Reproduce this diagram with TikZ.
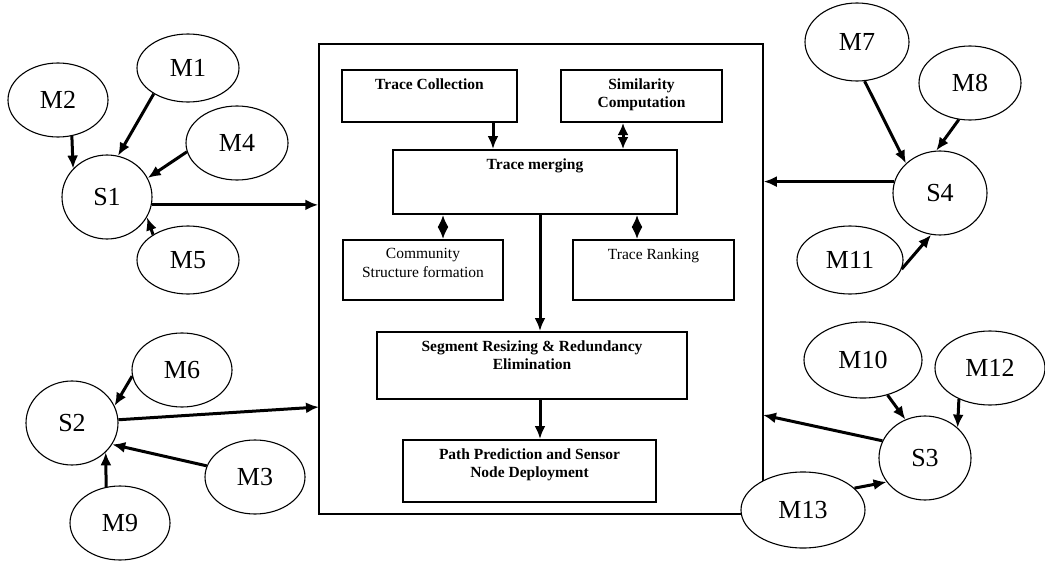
\documentclass[tikz,border=0pt]{standalone}
\usepackage{fontspec}
\setmainfont{Liberation Serif}
\usetikzlibrary{shapes.geometric,arrows.meta}

\begin{document}
\begin{tikzpicture}[x=1pt,y=-1pt,
		mob/.style={ellipse, draw, fill=white, line width=1.1pt, minimum width=100, minimum height=74, inner sep=0pt, font=\fontsize{26}{30}\selectfont},
		sink/.style={mob, minimum width=92, minimum height=84},
		blk/.style={draw, line width=2pt, inner sep=0pt},
		lbl/.style={anchor=north, yshift=-6pt, align=center, font=\bfseries\fontsize{15.5}{18.5}\selectfont},
		lblr/.style={lbl, font=\fontsize{15.5}{18.5}\selectfont},
		arr/.style={-{Latex[length=13pt,width=11pt]}, line width=3pt},
		darr/.style={{Latex[length=12pt,width=11pt]}-{Latex[length=12pt,width=11pt]}, line width=3pt}]
		\useasboundingbox (0,0) rectangle (1045,562);

		% the framework box
		\node [draw, line width=1.5pt, minimum width=444, minimum height=470] (frame) at (541,279) {};
		\node [blk, minimum width=175, minimum height=52, label={[lbl]north:Trace Collection}] (coll) at (429.5,96) {};
		\node [blk, minimum width=161, minimum height=52, label={[lbl]north:Similarity\\Computation}] (simil) at (641.5,96) {};
		\node [blk, minimum width=284, minimum height=64, label={[lbl]north:Trace merging}] (merge) at (535,182) {};
		\node [blk, minimum width=160, minimum height=60, label={[lblr]north:Community\\Structure formation}] (comm) at (423,270) {};
		\node [blk, minimum width=161, minimum height=60, label={[lblr]north:Trace Ranking}] (rank) at (653.5,270) {};
		\node [blk, minimum width=310, minimum height=67, label={[lbl]north:Segment Resizing \& Redundancy\\Elimination}] (seg) at (532,365.5) {};
		\node [blk, minimum width=253, minimum height=62, label={[lbl]north:Path Prediction and Sensor\\Node Deployment}] (path) at (529.5,471) {};

		\coordinate (c1) at (493,0);
		\coordinate (c2) at (623,0);
		\coordinate (c3) at (443,0);
		\coordinate (c4) at (637,0);
		\coordinate (c5) at (540,0);
		\draw [arr] (coll.south -| c1) -- (merge.north -| c1);
		\draw [darr] (simil.south -| c2) -- (merge.north -| c2);
		\draw [darr] (merge.south -| c3) -- (comm.north -| c3);
		\draw [darr] (merge.south -| c4) -- (rank.north -| c4);
		\draw [arr] (merge.south -| c5) -- (seg.north -| c5);
		\draw [arr] (seg.south -| c5) -- (path.north -| c5);

		% left side
		\node [mob, minimum width=102, minimum height=68] (M1) at (188,68) {M1};
		\node [mob] (M2) at (58,100) {M2};
		\node [mob, minimum width=102] (M4) at (237,143) {M4};
		\node [mob, minimum width=102, minimum height=68] (M5) at (188,260) {M5};
		\node [sink, minimum width=90] (S1) at (107,197) {S1};
		\node [mob] (M6) at (182,370) {M6};
		\node [sink] (S2) at (72,423) {S2};
		\node [mob] (M3) at (255,477) {M3};
		\node [mob] (M9) at (120,523) {M9};

		\draw [arr] (M2.-69) -- (S1.140);
		\draw [arr] (M1.-143) -- (S1.75);
		\draw [arr] (M4.190) -- (S1.25);
		\draw [arr] (M5.144) -- (S1.-27);
		\draw [arr] (S1.-10) -- (S1.-10 -| frame.west);
		\coordinate (inS2) at (319,407);
		\draw [arr] (M6.187) -- (S2.22);
		\draw [arr] (S2.4) -- (inS2);
		\draw [arr] (M3.167) -- (S2.-28);
		\draw [arr] (M9.111) -- (S2.-41);

		% right side
		\node [mob, minimum width=104, minimum height=78] (M7) at (857,42) {M7};
		\node [mob, minimum width=102] (M8) at (970,83) {M8};
		\node [sink, minimum width=94] (S4) at (940,193) {S4};
		\node [mob, minimum width=106, minimum height=68] (M11) at (850,260) {M11};
		\node [mob, minimum width=118, minimum height=76] (M10) at (863,360) {M10};
		\node [mob, minimum width=110] (M12) at (990,368) {M12};
		\node [sink] (S3) at (925,458) {S3};
		\node [mob, minimum width=124, minimum height=76] (M13) at (803,510) {M13};

		\draw [arr] (M7.-79) -- (S4.139);
		\draw [arr] (M8.-107) -- (S4.95);
		\draw [arr] (M11.-10) -- (S4.-102);
		\draw [arr] (S4.166) -- (S4.166 -| frame.east);
		\coordinate (inS3) at (763,415);
		\draw [arr] (M10.-55) -- (S3.117);
		\draw [arr] (M12.-135) -- (S3.43);
		\draw [arr] (M13.23) -- (S3.212);
		\draw [arr] (S3.158) -- (inS3);
	\end{tikzpicture}
\end{document}
